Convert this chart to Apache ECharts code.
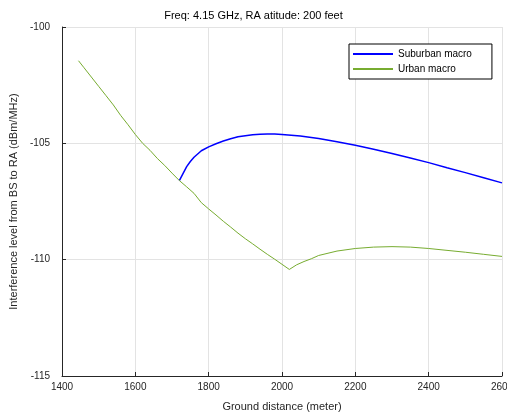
<!DOCTYPE html>
<html><head><meta charset="utf-8">
<script src="https://cdn.jsdelivr.net/npm/echarts@6/dist/echarts.min.js"></script>
<style>html,body{margin:0;padding:0;background:#fff}#c{width:507px;height:417px}</style>
</head><body><div id="c"></div>
<script>
const titleText = 'Freq: 4.15 GHz, RA atitude: 200 feet';
const xLabel = 'Ground distance (meter)';
const yLabel = 'Interference level from BS to RA (dBm/MHz)';
const seriesNames = ['Suburban macro', 'Urban macro'];

const urbanX = [1445,1460,1480,1500,1520,1540,1560,1580,1600,1620,1640,1660,1680,1700,1720,1740,1760,1780,1800,1820,1840,1860,1880,1900,1920,1940,1960,1980,2000,2020,2040,2060,2080,2100,2150,2200,2250,2300,2350,2400,2450,2500,2550,2600];
const urbanY = [-101.45,-101.75,-102.15,-102.55,-102.95,-103.35,-103.8,-104.2,-104.62,-105.0,-105.3,-105.65,-105.95,-106.28,-106.6,-106.87,-107.15,-107.55,-107.82,-108.08,-108.35,-108.6,-108.86,-109.1,-109.32,-109.55,-109.77,-109.98,-110.2,-110.42,-110.22,-110.08,-109.96,-109.82,-109.63,-109.52,-109.46,-109.44,-109.46,-109.52,-109.6,-109.68,-109.77,-109.86];

const suburbanX = [1720,1730,1740,1750,1760,1780,1800,1820,1840,1860,1880,1900,1920,1940,1960,1980,2000,2050,2100,2150,2200,2250,2300,2350,2400,2450,2500,2550,2600];
const suburbanY = [-106.6,-106.3,-106.0,-105.78,-105.6,-105.32,-105.15,-105.02,-104.9,-104.8,-104.72,-104.67,-104.63,-104.61,-104.6,-104.6,-104.62,-104.68,-104.79,-104.93,-105.08,-105.25,-105.44,-105.63,-105.83,-106.05,-106.26,-106.48,-106.7];

const xTicks = [1400,1600,1800,2000,2200,2400,2600];
const yTicks = [-115,-110,-105,-100];

const FONT = 'Liberation Sans, Arial, sans-serif';
const chart = echarts.init(document.getElementById('c'), null, {renderer:'canvas'});
const pair = (xs, ys) => xs.map((x,i)=>[x, ys[i]]);
chart.setOption({
  animation:false,
  backgroundColor:'#fff',
  title:{text:titleText, left:'center', top:5, textStyle:{fontFamily:FONT, fontSize:11, fontWeight:'normal', color:'#000'}},
  grid:{left:62, right:5, top:27, bottom:41, containLabel:false, outerBoundsMode:'none'},
  legend:{
    orient:'vertical', left:349, top:44,
    backgroundColor:'#fff', borderColor:'#000', borderWidth:1, borderRadius:0,
    padding:[5, 20, 5, 4], itemGap:5, itemWidth:40, itemHeight:2, icon:'rect',
    textStyle:{fontFamily:FONT, fontSize:10, color:'#000'},
    data:seriesNames
  },
  xAxis:{
    type:'value', min:xTicks[0], max:xTicks[xTicks.length-1], interval:200,
    name:xLabel, nameLocation:'middle', nameGap:25,
    nameTextStyle:{fontFamily:FONT, fontSize:11, color:'#262626'},
    axisLine:{show:true, onZero:false, lineStyle:{color:'#262626', width:1}},
    axisTick:{show:true, inside:true, length:4, lineStyle:{color:'#262626'}},
    axisLabel:{fontFamily:FONT, fontSize:10, color:'#262626', margin:6, formatter:v=>String(v), hideOverlap:false},
    splitLine:{show:true, lineStyle:{color:'#e3e3e3', width:1}}
  },
  yAxis:{
    type:'value', min:yTicks[0], max:yTicks[yTicks.length-1], interval:5,
    name:yLabel, nameLocation:'middle', nameGap:41, nameRotate:90,
    nameTextStyle:{fontFamily:FONT, fontSize:11, color:'#262626'},
    axisLine:{show:true, onZero:false, lineStyle:{color:'#262626', width:1}},
    axisTick:{show:true, inside:true, length:4, lineStyle:{color:'#262626'}},
    axisLabel:{fontFamily:FONT, fontSize:10, color:'#262626', margin:12, formatter:v=>String(v)},
    splitLine:{show:true, lineStyle:{color:'#e3e3e3', width:1}}
  },
  series:[
    {name:seriesNames[0], type:'line', data:pair(suburbanX, suburbanY), showSymbol:false, smooth:false, lineStyle:{color:'#0000ff', width:1.5}, itemStyle:{color:'#0000ff'}},
    {name:seriesNames[1], type:'line', data:pair(urbanX, urbanY), showSymbol:false, smooth:false, lineStyle:{color:'#77ac30', width:1}, itemStyle:{color:'#77ac30'}}
  ]
});
</script></body></html>
